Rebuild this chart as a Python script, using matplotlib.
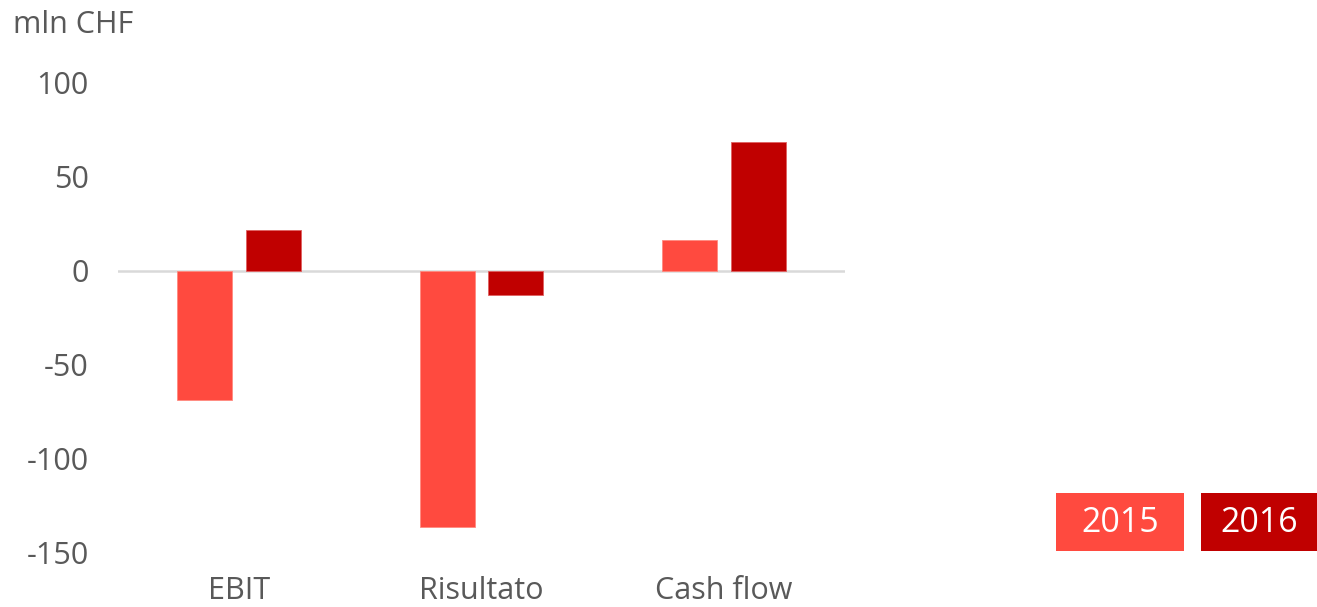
import matplotlib
matplotlib.use("Agg")
import matplotlib.pyplot as plt
import numpy as np
from matplotlib.patches import Rectangle

categories = ["EBIT", "Risultato", "Cash flow"]
series_names = ["2015", "2016"]
values_2015 = [-69, -136.5, 16.5]
values_2016 = [21.5, -13, 68.5]
yticks = [100, 50, 0, -50, -100, -150]

c2015 = "#FF4A3F"
c2016 = "#C00000"
grey = "#595959"

plt.rcParams['font.family'] = ['Open Sans', 'DejaVu Sans']

W, H = 1317, 607
fig = plt.figure(figsize=(W/100, H/100), dpi=100)
ax = fig.add_axes([118/W, 1-552/H, (845-118)/W, (552-83)/H])

x = np.arange(len(categories))
bw = 0.227
off = 0.142
ax.bar(x - off, values_2015, bw, color=c2015, edgecolor="#FF8A80", linewidth=0.6, zorder=2)
ax.bar(x + off, values_2016, bw, color=c2016, edgecolor="#E06060", linewidth=0.6, zorder=2)
ax.axhline(0, color="#D9D9D9", linewidth=1.8, zorder=1)

ax.set_xlim(-0.5, 2.5)
ax.set_ylim(-150, 100)
ax.set_yticks(yticks)
ax.set_yticklabels([str(v) for v in yticks])
ax.set_xticks(x)
ax.set_xticklabels(categories)
ax.tick_params(axis='both', length=0, labelsize=22, colors=grey)
ax.tick_params(axis='y', pad=21)
ax.tick_params(axis='x', pad=17)
for s in ax.spines.values():
    s.set_visible(False)

fig.text(13/W, 1-25/H, "mln CHF", fontsize=22, color=grey, va='center', ha='left')

# legend boxes
for (x0, x1, label, col) in [(1056, 1184, series_names[0], c2015), (1201, 1317, series_names[1], c2016)]:
    fig.patches.append(Rectangle((x0/W, 1-551/H), (x1-x0)/W, 58/H, transform=fig.transFigure,
                                 facecolor=col, edgecolor='none'))
    fig.text((x0+x1)/2/W, 1-523/H, label, fontsize=24.5, color='white', ha='center', va='center')

fig.savefig("out.png", dpi=100)
